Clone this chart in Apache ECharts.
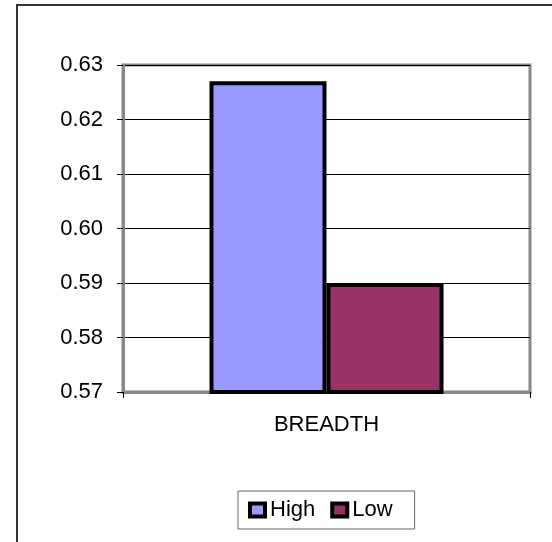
<!DOCTYPE html>
<html>
	<head>
		<meta charset="utf-8" />
		<title>BREADTH</title>
		<script src="https://cdn.jsdelivr.net/npm/echarts@6/dist/echarts.min.js"></script>
		<style>
			html, body { margin: 0; padding: 0; background: #fff; }
			#chart { width: 552px; height: 542px; }
		</style>
	</head>
	<body>
		<div id="chart"></div>
		<script type="text/javascript">
			// data
			var categories = ['BREADTH'];
			var highValues = [0.627];
			var lowValues = [0.590];
			var seriesNames = ['High', 'Low'];
			var seriesColors = ['#9999ff', '#993366'];

			var myChart = echarts.init(document.getElementById('chart'));
			var font = '"Liberation Sans", Arial, sans-serif';

			var option = {
				animation: false,
				backgroundColor: '#fff',
				// outer chart frame (only left and top edges visible)
				graphic: [{
					type: 'rect',
					shape: { x: 17, y: 5, width: 600, height: 600 },
					style: { fill: 'none', stroke: '#333', lineWidth: 2 }
				}],
				grid: {
					left: 123,
					right: 22,
					top: 65,
					bottom: 150,
					show: true,
					borderColor: '#888',
					borderWidth: 3,
					backgroundColor: '#fff'
				},
				legend: {
					data: seriesNames,
					top: 491,
					left: 238,
					icon: 'rect',
					itemWidth: 15,
					itemHeight: 13,
					itemGap: 15,
					padding: [8, 22, 8, 10],
					borderColor: '#666',
					borderWidth: 1,
					textStyle: { fontFamily: font, fontSize: 22, color: '#000' },
					itemStyle: { borderColor: '#000', borderWidth: 4 }
				},
				xAxis: {
					type: 'category',
					data: categories,
					axisLine: { lineStyle: { color: '#888', width: 3 } },
					axisTick: { show: true, length: 6, lineStyle: { color: '#000' } },
					axisLabel: { fontFamily: font, fontSize: 22, color: '#000', margin: 22 }
				},
				yAxis: {
					type: 'value',
					min: 0.57,
					max: 0.63,
					interval: 0.01,
					axisLine: { show: true, lineStyle: { color: '#888', width: 3 } },
					axisTick: { show: true, length: 6, lineStyle: { color: '#000' } },
					axisLabel: {
						fontFamily: font, fontSize: 22, color: '#000', margin: 20,
						formatter: function (v) { return v.toFixed(2); }
					},
					splitLine: { lineStyle: { color: '#000', width: 1 } }
				},
				series: [{
					name: seriesNames[0],
					type: 'bar',
					data: highValues,
					barGap: '0%',
					barCategoryGap: '42.5%',
					itemStyle: { color: seriesColors[0], borderColor: '#000', borderWidth: 4 }
				}, {
					name: seriesNames[1],
					type: 'bar',
					data: lowValues,
					itemStyle: { color: seriesColors[1], borderColor: '#000', borderWidth: 4 }
				}]
			};
			myChart.setOption(option);
		</script>
	</body>
</html>
